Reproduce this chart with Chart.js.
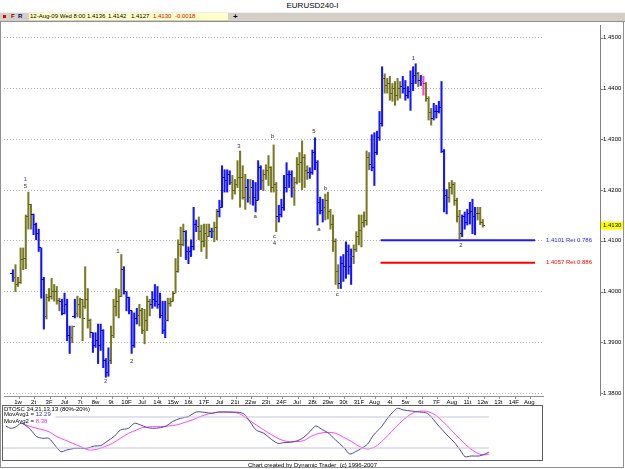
<!DOCTYPE html>
<html>
<head>
<meta charset="utf-8">
<script src="https://cdn.jsdelivr.net/npm/chart.js@4.4.1/dist/chart.umd.min.js"></script>
<style>
  body { margin: 0; width: 625px; height: 469px; background: #fff; position: relative; overflow: hidden;
         font-family: "Liberation Sans", Arial, sans-serif; }
  .abs { position: absolute; white-space: nowrap; }
  #title { left: 0; top: 0; width: 625px; text-align: center; font-size: 8px; line-height: 11px; }
  #toolbar { left: 0; top: 12px; width: 625px; height: 8px; background: #d4d0c8; border-top: 1px solid #eee; border-bottom: 1px solid #909090; }
  #quote { left: 29px; top: 13px; width: 199px; height: 7px; background: #ffffc8; }
  .tb { top: 13px; font-size: 6px; line-height: 7px; }
  #frame { left: 0; top: 21px; width: 622px; height: 446px; border-left: 1px solid #909090; border-right: 1px solid #909090; border-bottom: 1px solid #909090; }
  canvas { position: absolute; left: 0; }
  .small { font-size: 6px; line-height: 7px; }
</style>
</head>
<body>
<div id="title" class="abs">EURUSD240-I</div>
<div id="toolbar" class="abs"></div>
<div class="abs" style="left:3px;top:15px;width:3px;height:3px;background:#e00000"></div>
<div class="abs tb" style="left:11px;color:#800000;font-weight:bold">F</div>
<div class="abs tb" style="left:18px;color:#000080;font-weight:bold">R</div>
<div id="quote" class="abs"></div>
<div class="abs tb" style="left:30px">12-Aug-09 Wed 8:00</div>
<div class="abs tb" style="left:87px">1.4136</div>
<div class="abs tb" style="left:108px">1.4142</div>
<div class="abs tb" style="left:131px">1.4127</div>
<div class="abs tb" style="left:153px;color:#e00000">1.4130</div>
<div class="abs tb" style="left:175px;color:#e00000">-0.0018</div>
<div class="abs tb" style="left:233px;font-size:8px;line-height:7px;font-weight:bold">+</div>
<div id="frame" class="abs"></div>

<canvas id="price" width="625" height="386" style="top:21px"></canvas>
<canvas id="osc" width="625" height="58" style="top:405px"></canvas>

<div class="abs small" style="left:4px;top:406px">DTOSC 34,21,13,13 (80%-20%)</div>
<div class="abs small" style="left:4px;top:411px">MovAvg1 = <span style="color:#3030a0">12.29</span></div>
<div class="abs small" style="left:4px;top:418px">MovAvg2 = <span style="color:#ff30ff">8.38</span></div>
<div class="abs small" style="left:0;top:462px;width:625px;text-align:center">Chart created by Dynamic Trader&nbsp; (c) 1996-2007</div>

<script>
const FONT = '"Liberation Sans", Arial, sans-serif';

// day labels under the price panel (6 four-hour bars per day)
const dayLabels = ["1w","2t","3F","Jul","7t","8w","9t","10F","Jul","14t","15w","16t","17F","Jul","21t","22w","23t","24F",
  "Jul","28t","29w","30t","31F","Aug","4t","5w","6t","7F","Aug","11t","12w","13t","14F","Aug"];
const barsPerDay = 6;
const priceTicks = [1.38, 1.39, 1.40, 1.41, 1.42, 1.43, 1.44, 1.45];

// EURUSD 240 min bars, 1 Jul 2009 -> 12 Aug 2009 8:00
const opens = [
  1.4036,1.4028,1.4014,1.4018,1.4063,1.4065,1.4147,1.4172,1.4151,1.4133,
  1.4114,1.4086,1.4024,1.3950,1.3989,1.3991,1.4000,1.4000,1.3983,1.3981,
  1.3956,1.3975,1.3913,1.3909,1.3950,1.3956,1.3975,1.3985,1.3970,1.3985,
  1.3942,1.3919,1.3893,1.3903,1.3893,1.3923,1.3864,1.3841,1.3864,1.3913,
  1.3971,1.3981,1.3991,1.4043,1.4000,1.3989,1.3962,1.3893,1.3946,1.3952,
  1.3962,1.3923,1.3942,1.3981,1.3975,1.3985,1.3981,1.3975,1.3952,1.3923,
  1.3942,1.3977,1.3981,1.3997,1.4040,1.4092,1.4092,1.4118,1.4079,1.4079,
  1.4088,1.4133,1.4129,1.4118,1.4098,1.4114,1.4108,1.4118,1.4118,1.4127,
  1.4157,1.4166,1.4225,1.4219,1.4231,1.4215,1.4199,1.4211,1.4225,1.4225,
  1.4186,1.4205,1.4186,1.4205,1.4186,1.4180,1.4244,1.4219,1.4231,1.4238,
  1.4244,1.4205,1.4211,1.4147,1.4151,1.4166,1.4205,1.4231,1.4231,1.4205,
  1.4215,1.4250,1.4254,1.4264,1.4238,1.4235,1.4235,1.4274,1.4254,1.4176,
  1.4160,1.4166,1.4180,1.4157,1.4133,1.4098,1.4040,1.4016,1.4055,1.4049,
  1.4079,1.4049,1.4069,1.4082,1.4108,1.4121,1.4137,1.4141,1.4264,1.4250,
  1.4244,1.4274,1.4303,1.4332,1.4420,1.4406,1.4410,1.4391,1.4400,1.4387,
  1.4400,1.4404,1.4400,1.4387,1.4394,1.4410,1.4426,1.4429,1.4416,1.4414,
  1.4410,1.4381,1.4352,1.4342,1.4355,1.4355,1.4363,1.4277,1.4190,1.4186,
  1.4205,1.4211,1.4180,1.4147,1.4114,1.4147,1.4137,1.4153,1.4157,1.4147,
  1.4153,1.4153,1.4136
];
const highs = [
  1.4043,1.4053,1.4028,1.4086,1.4086,1.4151,1.4196,1.4172,1.4153,1.4135,
  1.4123,1.4086,1.4028,1.3995,1.4006,1.4026,1.4014,1.4010,1.3987,1.3985,
  1.3997,1.3985,1.3932,1.3932,1.3985,1.3991,1.3987,1.3985,1.4049,1.4006,
  1.3946,1.3919,1.3919,1.3936,1.3936,1.3925,1.3868,1.3889,1.3932,1.3985,
  1.4006,1.4004,1.4073,1.4049,1.4000,1.3989,1.3962,1.3958,1.3967,1.3975,
  1.3967,1.3965,1.3991,1.3985,1.4000,1.4014,1.4010,1.3997,1.3981,1.3981,
  1.3987,1.3987,1.4000,1.4065,1.4102,1.4127,1.4133,1.4120,1.4088,1.4102,
  1.4166,1.4141,1.4147,1.4131,1.4133,1.4133,1.4133,1.4125,1.4137,1.4162,
  1.4180,1.4248,1.4240,1.4240,1.4238,1.4229,1.4221,1.4258,1.4277,1.4248,
  1.4231,1.4221,1.4221,1.4219,1.4215,1.4258,1.4248,1.4240,1.4250,1.4268,
  1.4246,1.4289,1.4215,1.4170,1.4182,1.4229,1.4254,1.4238,1.4238,1.4225,
  1.4264,1.4274,1.4297,1.4270,1.4248,1.4244,1.4279,1.4303,1.4258,1.4186,
  1.4182,1.4192,1.4196,1.4162,1.4151,1.4104,1.4053,1.4069,1.4073,1.4098,
  1.4092,1.4084,1.4092,1.4118,1.4151,1.4151,1.4157,1.4277,1.4274,1.4309,
  1.4313,1.4316,1.4355,1.4443,1.4429,1.4420,1.4424,1.4410,1.4414,1.4420,
  1.4414,1.4424,1.4416,1.4404,1.4435,1.4443,1.4449,1.4432,1.4426,1.4424,
  1.4412,1.4384,1.4361,1.4371,1.4367,1.4375,1.4414,1.4280,1.4201,1.4215,
  1.4219,1.4215,1.4184,1.4160,1.4151,1.4157,1.4162,1.4176,1.4182,1.4166,
  1.4166,1.4166,1.4142
];
const lows = [
  1.4020,1.4000,1.4010,1.4016,1.4043,1.4045,1.4123,1.4123,1.4112,1.4102,
  1.4079,1.3987,1.3926,1.3946,1.3981,1.3985,1.3981,1.3975,1.3962,1.3954,
  1.3956,1.3903,1.3878,1.3899,1.3948,1.3950,1.3948,1.3903,1.3967,1.3928,
  1.3909,1.3880,1.3890,1.3858,1.3884,1.3850,1.3831,1.3833,1.3858,1.3909,
  1.3952,1.3948,1.3990,1.3995,1.3962,1.3956,1.3878,1.3890,1.3936,1.3932,
  1.3917,1.3897,1.3923,1.3952,1.3967,1.3971,1.3967,1.3948,1.3917,1.3909,
  1.3942,1.3971,1.3981,1.3997,1.4038,1.4069,1.4090,1.4063,1.4055,1.4069,
  1.4082,1.4118,1.4102,1.4079,1.4088,1.4065,1.4108,1.4106,1.4098,1.4102,
  1.4147,1.4166,1.4196,1.4196,1.4211,1.4182,1.4192,1.4205,1.4166,1.4182,
  1.4162,1.4176,1.4172,1.4170,1.4157,1.4180,1.4201,1.4199,1.4221,1.4209,
  1.4196,1.4196,1.4118,1.4137,1.4147,1.4160,1.4196,1.4205,1.4186,1.4170,
  1.4212,1.4215,1.4201,1.4205,1.4221,1.4223,1.4231,1.4240,1.4131,1.4153,
  1.4137,1.4141,1.4143,1.4123,1.4079,1.4014,1.4006,1.4006,1.4020,1.4026,
  1.4034,1.4014,1.4055,1.4079,1.4092,1.4088,1.4127,1.4131,1.4240,1.4238,
  1.4209,1.4270,1.4298,1.4326,1.4391,1.4391,1.4377,1.4375,1.4367,1.4377,
  1.4381,1.4391,1.4377,1.4381,1.4357,1.4396,1.4410,1.4404,1.4406,1.4387,
  1.4375,1.4338,1.4328,1.4338,1.4342,1.4352,1.4274,1.4157,1.4153,1.4176,
  1.4192,1.4170,1.4137,1.4104,1.4108,1.4123,1.4131,1.4133,1.4114,1.4112,
  1.4141,1.4132,1.4127
];
const closes = [
  1.4028,1.4014,1.4018,1.4063,1.4065,1.4147,1.4172,1.4151,1.4133,1.4114,
  1.4086,1.4024,1.3950,1.3989,1.3991,1.4000,1.4000,1.3983,1.3981,1.3956,
  1.3975,1.3913,1.3909,1.3932,1.3956,1.3975,1.3985,1.3946,1.3985,1.3942,
  1.3919,1.3893,1.3903,1.3893,1.3923,1.3864,1.3841,1.3864,1.3913,1.3971,
  1.3981,1.3991,1.4043,1.4000,1.3989,1.3962,1.3893,1.3946,1.3952,1.3962,
  1.3923,1.3942,1.3981,1.3975,1.3985,1.3981,1.3975,1.3952,1.3923,1.3942,
  1.3977,1.3981,1.3997,1.4040,1.4092,1.4092,1.4118,1.4079,1.4079,1.4088,
  1.4133,1.4129,1.4118,1.4098,1.4114,1.4108,1.4118,1.4118,1.4127,1.4157,
  1.4166,1.4225,1.4219,1.4231,1.4215,1.4199,1.4211,1.4225,1.4225,1.4186,
  1.4205,1.4186,1.4205,1.4186,1.4180,1.4244,1.4219,1.4231,1.4238,1.4244,
  1.4205,1.4211,1.4147,1.4151,1.4166,1.4205,1.4231,1.4231,1.4205,1.4215,
  1.4250,1.4254,1.4264,1.4238,1.4235,1.4235,1.4274,1.4254,1.4176,1.4160,
  1.4166,1.4180,1.4157,1.4133,1.4098,1.4040,1.4016,1.4055,1.4049,1.4079,
  1.4049,1.4069,1.4082,1.4108,1.4121,1.4137,1.4141,1.4264,1.4250,1.4244,
  1.4274,1.4303,1.4332,1.4420,1.4406,1.4410,1.4391,1.4400,1.4387,1.4400,
  1.4404,1.4400,1.4387,1.4394,1.4410,1.4426,1.4429,1.4416,1.4414,1.4410,
  1.4381,1.4352,1.4342,1.4355,1.4355,1.4363,1.4277,1.4190,1.4186,1.4205,
  1.4211,1.4180,1.4147,1.4114,1.4147,1.4137,1.4153,1.4157,1.4147,1.4153,
  1.4153,1.4136,1.4130
];
// bar colouring as drawn by the program: b = blue, o = olive, p = pink
const barTone = [
  "booooooobb","bbboooooob","bbbobooooo","obbbbbbboo","ooobbbbbbo",
  "oooobbbbbb","ooooooobbb","bboooooboo","bbbbbooooo","obobbbbooo",
  "ooobbbbbbo","ooooobbbbb","boooooobbb","bbooooooob","bbbboooooo",
  "obbbbbbobp","ooobbbbbbo","oooobbbbbb","ooo"
].join("").split("");

// retracement targets
const retLevels = [1.4101, 1.4057];
const retNames = ["1.4101 Ret 0.786", "1.4057 Ret 0.886"];
const retColors = ["#1c1cff", "#ff0000"];
const retFromBar = 142.4;

// wave labels
const waveText  = ["1","5","2","1","2","3","a","b","c","4","5","a","b","c","1","2"];
const waveBar   = [4.9,4.9,35.9,40.7,46.0,87.5,93.8,100.6,101.3,101.3,116.6,118.5,121.1,125.6,155.1,173.5];
const wavePrice = [1.4221,1.4207,1.3823,1.4080,1.3862,1.4287,1.4149,1.4305,1.4108,1.4096,1.4316,1.4123,1.4203,1.3995,1.4459,1.4092];
const waveBlue  = [true,false,true,false,false,false,false,false,false,false,false,false,false,false,false,false];

// DTOSC 34,21,13,13 lines (bar position, value)
const osc1Bar = [1.4,3.4,5.3,7.1,8.6,10.8,13.0,15.3,17.5,19.7,22.0,24.2,27.2,29.4,31.7,34.6,36.9,39.1,42.1,44.3,
  47.3,49.5,51.8,54.0,56.2,59.2,61.4,63.7,66.7,69.6,72.6,75.6,78.6,80.8,84.5,88.2,90.5,92.7,95.0,97.9,
  100.2,103.1,105.4,107.6,110.6,112.8,115.1,117.3,119.5,121.8,124.7,127.7,130.0,132.2,134.4,136.7,138.9,141.9,144.1,146.3,
  147.8,150.1,153.0,156.0,159.0,161.2,163.5,166.4,169.4,171.7,173.1,175.4,178.4,180.6,182.0];
const osc1 = [62.6,58.1,61.3,67.8,64.6,54.9,42.0,38.8,38.8,25.9,13.0,16.2,19.4,19.4,19.4,24.0,24.6,32.3,43.3,54.9,
  58.1,67.8,64.6,60.1,58.1,59.4,62.6,71.0,77.5,80.7,89.7,89.1,87.1,89.7,89.7,89.1,85.8,71.0,54.9,48.5,
  38.8,29.1,30.4,31.0,34.3,40.7,51.7,62.6,56.2,49.7,35.6,21.4,8.5,13.0,19.4,27.8,45.2,61.3,77.5,90.4,
  96.8,93.6,91.6,89.7,87.1,75.5,61.3,45.2,29.1,13.0,3.3,4.6,4.6,8.5,12.3];
const osc2Bar = [7.8,10.8,14.5,17.5,20.5,23.5,26.4,29.4,32.4,35.4,38.4,41.3,44.3,47.3,50.3,52.5,56.2,59.2,62.2,65.2,
  68.1,71.1,74.1,77.1,80.8,84.5,87.5,89.7,92.0,95.0,97.9,100.9,103.9,106.9,109.8,112.8,115.8,118.8,121.8,124.7,
  127.7,130.7,133.7,136.7,139.6,142.6,145.6,148.6,151.5,154.5,157.5,159.7,162.0,164.9,167.9,170.9,173.9,176.1,178.4,180.6,182.0];
const osc2 = [66.5,61.3,56.2,51.7,42.0,35.6,29.1,22.7,16.2,17.5,22.7,29.1,38.8,48.4,54.9,59.4,61.3,61.3,62.6,64.6,
  69.1,74.2,80.7,85.8,89.1,89.1,88.4,83.9,75.5,64.6,54.9,45.2,36.8,32.3,32.3,34.3,43.3,48.5,50.4,48.5,
  40.7,32.3,22.7,18.1,22.7,35.6,51.7,67.8,80.7,89.7,91.6,89.7,83.9,71.0,54.9,38.8,24.0,14.9,8.5,6.6,8.4];
const oscBands = [80, 20];
const oscBandFrom = [20, 0];

// ---------- scale geometry ----------
const barStep = 2.675;                    // px per bar in the original
const xMin = -0.37, xMax = xMin + 542 / barStep;
const yMin = 1.37942, yMax = 1.45253;
const lastBar = closes.length - 1;

const toneBar = { b: "#1414ff", o: "#7a7a26", p: "#ff40c8" };
const toneTick = { b: "#0000c8", o: "#5c5c14", p: "#ff30c0" };

function tickImage(color, side) {
  const c = document.createElement("canvas");
  c.width = 5; c.height = 1;
  const g = c.getContext("2d");
  g.fillStyle = color;
  g.fillRect(side === "open" ? 0 : 3, 0, 2, 1);
  return c;
}
const openImg = {}, closeImg = {};
Object.keys(toneTick).forEach(k => {
  openImg[k] = tickImage(toneTick[k], "open");
  closeImg[k] = tickImage(toneTick[k], "close");
});

// axis line, tick labels, wave labels, target captions and the last-price tag
const priceDecor = {
  id: "priceDecor",
  afterDraw(chart) {
    const { ctx, chartArea, scales } = chart;
    const x = scales.x, y = scales.y;
    ctx.save();
    ctx.strokeStyle = "#808080";
    ctx.lineWidth = 1;
    ctx.beginPath();
    ctx.moveTo(600.5, chartArea.top);
    ctx.lineTo(600.5, chartArea.bottom);
    priceTicks.forEach(v => {
      const py = Math.round(y.getPixelForValue(v)) + 0.5;
      ctx.moveTo(600, py); ctx.lineTo(603, py);
    });
    ctx.stroke();

    ctx.font = "6px " + FONT;
    ctx.fillStyle = "#000";
    ctx.textBaseline = "middle";
    ctx.textAlign = "left";
    priceTicks.forEach(v => ctx.fillText(v.toFixed(4), 603, y.getPixelForValue(v)));

    ctx.textAlign = "center";
    ctx.textBaseline = "top";
    dayLabels.forEach((t, d) => ctx.fillText(t, x.getPixelForValue(d * barsPerDay - 0.5) + 6.5, chartArea.bottom + 3));

    ctx.textBaseline = "middle";
    ctx.textAlign = "left";
    retLevels.forEach((v, i) => {
      ctx.fillStyle = retColors[i];
      ctx.fillText(retNames[i], chartArea.right + 3, y.getPixelForValue(v));
    });

    const ly = y.getPixelForValue(closes[lastBar]);
    ctx.fillStyle = "#ffff00";
    ctx.fillRect(601, ly - 4, 22, 8);
    ctx.fillStyle = "#000";
    ctx.fillText(closes[lastBar].toFixed(4), 603, ly);

    ctx.textAlign = "center";
    waveText.forEach((t, i) => {
      ctx.fillStyle = waveBlue[i] ? "#3030ff" : "#333";
      ctx.fillText(t, x.getPixelForValue(waveBar[i]), y.getPixelForValue(wavePrice[i]));
    });
    ctx.restore();
  }
};

new Chart(document.getElementById("price"), {
  type: "bar",
  data: {
    datasets: [
      {
        type: "bar",
        data: highs.map((h, i) => ({ x: i, y: [lows[i], h] })),
        backgroundColor: barTone.map(t => toneBar[t]),
        barThickness: 1.4,
        order: 3
      },
      {
        type: "line",
        data: opens.map((v, i) => ({ x: i, y: v })),
        showLine: false,
        pointStyle: barTone.map(t => openImg[t]),
        pointRadius: 1, pointBorderWidth: 0,
        order: 1
      },
      {
        type: "line",
        data: closes.map((v, i) => ({ x: i, y: v })),
        showLine: false,
        pointStyle: barTone.map(t => closeImg[t]),
        pointRadius: 1, pointBorderWidth: 0,
        order: 1
      },
      ...retLevels.map((v, i) => ({
        type: "line",
        data: [{ x: retFromBar, y: v }, { x: xMax, y: v }],
        borderColor: retColors[i],
        borderWidth: 2,
        pointRadius: 0,
        order: 2
      }))
    ]
  },
  options: {
    responsive: false,
    animation: false,
    events: [],
    layout: { padding: { left: 1, right: 0, top: 0, bottom: 0 } },
    plugins: { legend: { display: false }, tooltip: { enabled: false } },
    scales: {
      x: {
        type: "linear", min: xMin, max: xMax, position: "bottom",
        afterBuildTicks: s => { s.ticks = dayLabels.map((_, d) => ({ value: d * barsPerDay - 0.5 })); },
        afterFit: s => { s.height = 11; },
        ticks: { display: false },
        grid: { drawOnChartArea: false, drawTicks: true, tickLength: 3, color: "#909090" },
        border: { display: true, color: "#909090" }
      },
      y: {
        type: "linear", position: "right", min: yMin, max: yMax,
        afterBuildTicks: s => { s.ticks = priceTicks.map(v => ({ value: v })); },
        afterFit: s => { s.width = 82; },
        ticks: { display: false },
        grid: { color: "#b4b4b4", drawTicks: false, lineWidth: 1 },
        border: { display: false, dash: [1, 2] }
      }
    }
  },
  plugins: [priceDecor]
});

// ---------- oscillator panel ----------
const oscBox = {
  id: "oscBox",
  afterDraw(chart) {
    const { ctx, chartArea: a } = chart;
    ctx.save();
    ctx.strokeStyle = "#606060";
    ctx.lineWidth = 1;
    ctx.strokeRect(a.left + 0.5, a.top + 0.5, a.right - a.left - 1, a.bottom - a.top - 1);
    ctx.restore();
  }
};

new Chart(document.getElementById("osc"), {
  type: "line",
  data: {
    datasets: [
      ...oscBands.map((v, i) => ({
        data: [{ x: oscBandFrom[i], y: v }, { x: lastBar, y: v }],
        borderColor: "#c4c4dc", borderWidth: 1, pointRadius: 0
      })),
      {
        data: osc1Bar.map((b, i) => ({ x: b, y: osc1[i] })),
        borderColor: "#4a4a96", borderWidth: 1, pointRadius: 0, tension: 0.3
      },
      {
        data: osc2Bar.map((b, i) => ({ x: b, y: osc2[i] })),
        borderColor: "#ff44ff", borderWidth: 1, pointRadius: 0, tension: 0.3
      }
    ]
  },
  options: {
    responsive: false,
    animation: false,
    events: [],
    layout: { padding: { left: 2, right: 82, top: 0, bottom: 2 } },
    plugins: { legend: { display: false }, tooltip: { enabled: false } },
    scales: {
      x: { type: "linear", display: false, min: 0, max: 541 / barStep },
      y: { type: "linear", display: false, min: -5.1, max: 103.2 }
    }
  },
  plugins: [oscBox]
});
</script>
</body>
</html>
